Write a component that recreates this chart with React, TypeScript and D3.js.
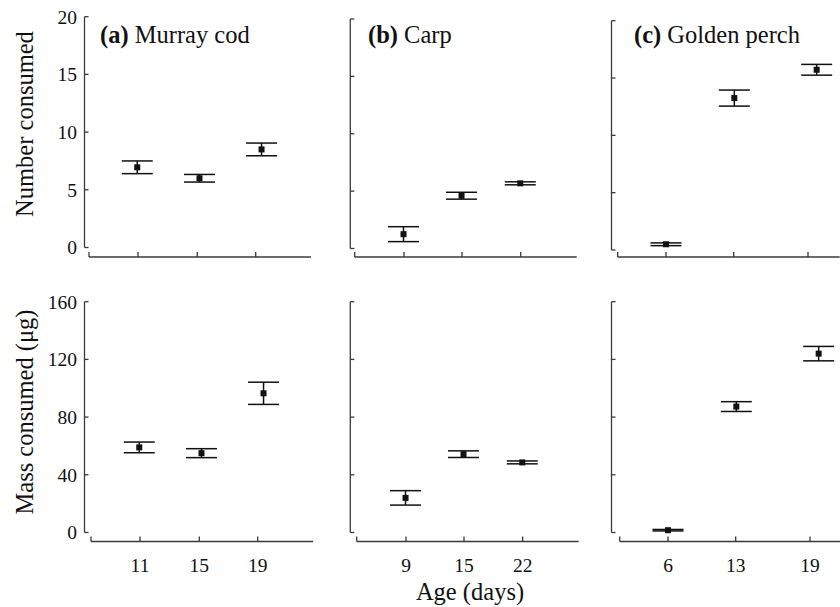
import React from 'react';
import * as d3 from 'd3';

const species = ['Murray cod', 'Carp', 'Golden perch'];
const panelTags = ['(a)', '(b)', '(c)'];
const ageTicks = [[11, 15, 19], [9, 15, 22], [6, 13, 19]];
const pointAges = [[10.95, 15.15, 19.4], [8.95, 14.95, 21.95], [6, 13.05, 19.7]];
const numberMean = [[6.95, 6.0, 8.5], [1.25, 4.6, 5.68], [0.5, 13.25, 15.72]];
const numberErr = [[0.55, 0.33, 0.55], [0.65, 0.3, 0.13], [0.12, 0.7, 0.47]];
const massMean = [[59, 55, 96.5], [24, 54.3, 48.6], [1.6, 87.3, 124]];
const massErr = [[3.7, 3.1, 7.7], [5, 2.3, 1], [0.5, 3.4, 5]];
const numberTicks = [0, 5, 10, 15, 20];
const massTicks = [0, 40, 80, 120, 160];

// layout
const xAxisStart = [89, 354.7, 617.7];
const xAxisWidth = 222;
const tickRel = [[49, 108.3, 166.7], [49.3, 107.3, 166], [48.3, 116, 190.3]];
const yAxisX = [84.5, 350.3, 611.5];
const topYRange = [[247.5, 16.7], [248.5, 19], [250, 20.7]];
const bottomYRange = [[532.5, 301.7], [532.5, 301.7], [532.5, 301.7]];
const FONT = "'Liberation Serif', 'DejaVu Serif', serif";
const AXIS = '#3a3a3a';
const INK = '#111';
const BIG = 24.5;
const SMALL = 19.5;
const textStyle = { fontFamily: FONT } as React.CSSProperties;

type Row = {
  means: number[][];
  errs: number[][];
  ticks: number[];
  yRanges: number[][];
  axisY: number;
  xShift: number;
  tickLabels: boolean;
  panelLabels: boolean;
};

function Panel({ p, row }: { p: number; row: Row }) {
  const x0 = xAxisStart[p] + row.xShift;
  const x = d3
    .scaleLinear()
    .domain(ageTicks[p])
    .range(tickRel[p].map((r) => x0 + r));
  const y = d3
    .scaleLinear()
    .domain([row.ticks[0], row.ticks[row.ticks.length - 1]])
    .range(row.yRanges[p]);
  const ax = yAxisX[p];
  const yTop = y(row.ticks[row.ticks.length - 1]);
  const yBot = y(row.ticks[0]);
  return (
    <g>
      <line x1={ax} x2={ax} y1={yTop} y2={yBot} stroke={AXIS} strokeWidth={1.3} />
      {row.ticks.map((t) => (
        <g key={t}>
          <line x1={ax} x2={ax + 4} y1={y(t)} y2={y(t)} stroke={AXIS} strokeWidth={1.3} />
          {p === 0 && (
            <text x={77} y={y(t)} dy="0.35em" textAnchor="end" style={textStyle} fontSize={SMALL} fill={INK}>
              {t}
            </text>
          )}
        </g>
      ))}
      <line x1={x0} x2={x0 + xAxisWidth} y1={row.axisY} y2={row.axisY} stroke={AXIS} strokeWidth={1.3} />
      <line x1={x0} x2={x0} y1={row.axisY} y2={row.axisY - 5} stroke={AXIS} strokeWidth={1.3} />
      {ageTicks[p].map((t) => (
        <g key={t}>
          <line x1={x(t)} x2={x(t)} y1={row.axisY} y2={row.axisY - 5} stroke={AXIS} strokeWidth={1.3} />
          {row.tickLabels && (
            <text x={x(t)} y={row.axisY + 30} textAnchor="middle" style={textStyle} fontSize={SMALL} fill={INK}>
              {t}
            </text>
          )}
        </g>
      ))}
      {pointAges[p].map((a, i) => {
        const cx = x(a);
        const m = row.means[p][i];
        const e = row.errs[p][i];
        return (
          <g key={i}>
            <line x1={cx} x2={cx} y1={y(m - e)} y2={y(m + e)} stroke={INK} strokeWidth={1.5} />
            <line x1={cx - 15.5} x2={cx + 15.5} y1={y(m - e)} y2={y(m - e)} stroke={INK} strokeWidth={1.5} />
            <line x1={cx - 15.5} x2={cx + 15.5} y1={y(m + e)} y2={y(m + e)} stroke={INK} strokeWidth={1.5} />
            <rect x={cx - 3} y={y(m) - 3} width={6} height={6} fill={INK} />
          </g>
        );
      })}
      {row.panelLabels && (
        <text x={[100, 368, 634][p]} y={43} style={textStyle} fontSize={BIG} fill={INK}>
          <tspan fontWeight="bold">{panelTags[p]}</tspan>
          <tspan>{' ' + species[p]}</tspan>
        </text>
      )}
    </g>
  );
}

export default function App() {
  const topRow: Row = {
    means: numberMean,
    errs: numberErr,
    ticks: numberTicks,
    yRanges: topYRange,
    axisY: 257,
    xShift: 0,
    tickLabels: false,
    panelLabels: true,
  };
  const bottomRow: Row = {
    means: massMean,
    errs: massErr,
    ticks: massTicks,
    yRanges: bottomYRange,
    axisY: 541.5,
    xShift: 2,
    tickLabels: true,
    panelLabels: false,
  };
  return (
    <svg width={840} height={607} style={{ position: 'absolute', left: 0, top: 0, background: '#fff' }}>
      <rect width={840} height={607} fill="#fff" />
      {[0, 1, 2].map((p) => (
        <Panel key={'t' + p} p={p} row={topRow} />
      ))}
      {[0, 1, 2].map((p) => (
        <Panel key={'b' + p} p={p} row={bottomRow} />
      ))}
      <text transform="translate(33,124) rotate(-90)" textAnchor="middle" style={textStyle} fontSize={BIG} fill={INK}>
        Number consumed
      </text>
      <text transform="translate(33,412) rotate(-90)" textAnchor="middle" style={textStyle} fontSize={BIG} fill={INK}>
        Mass consumed (μg)
      </text>
      <text x={470} y={600} textAnchor="middle" style={textStyle} fontSize={BIG} fill={INK}>
        Age (days)
      </text>
    </svg>
  );
}
